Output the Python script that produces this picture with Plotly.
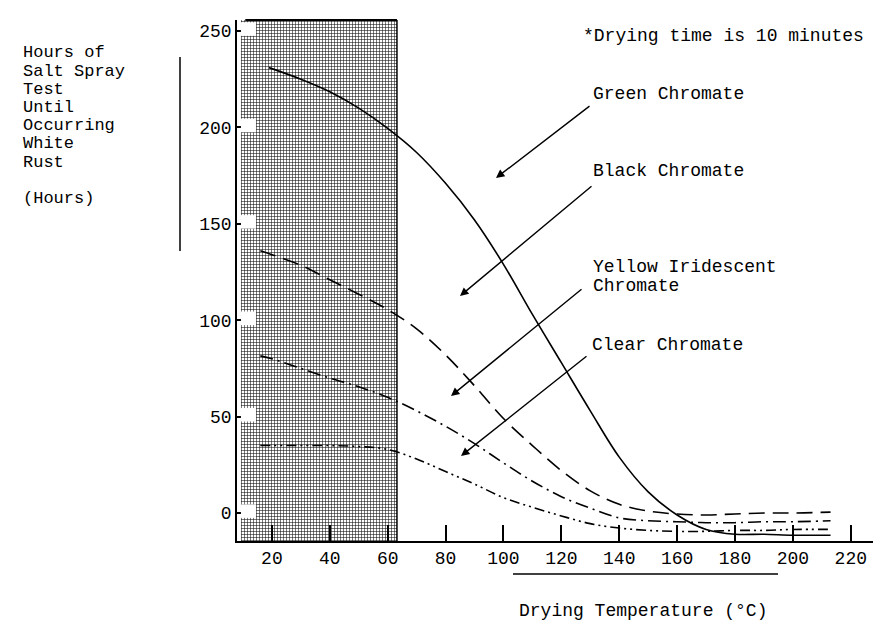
import plotly.graph_objects as go

# ---------------- data ----------------
TEMP_GREEN = [19, 30, 40, 50, 60, 70, 80, 90, 100, 110, 120, 130, 140, 150, 160, 170, 180, 190, 200, 213]
GREEN = [231, 225, 218.5, 210, 199.5, 187, 171, 152, 129, 103, 78, 53, 29, 11, -1, -8.5, -11, -11, -11.5, -11.5]

TEMP = [16, 20, 30, 40, 50, 60, 70, 80, 90, 100, 110, 120, 130, 140, 150, 160, 170, 180, 190, 200, 213]
BLACK = [136, 134, 128.5, 121, 113.5, 105.5, 95.5, 82, 66, 49, 35, 22, 11.5, 4.5, 1, -0.5, -1, -0.5, 0, 0, 0.5]
YELLOW = [81.5, 80, 75, 70, 65.5, 60, 53, 45, 36, 26, 16.5, 8.5, 2.5, -2.5, -4, -4.5, -5, -5, -4.5, -4.5, -4]
CLEAR = [35, 35, 35, 35, 34.5, 33, 28, 21.5, 15, 8, 3, -1.5, -5.5, -7.8, -9, -9.5, -9.5, -9, -9, -8.5, -8.5]

X_TICKS = [20, 40, 60, 80, 100, 120, 140, 160, 180, 200, 220]
Y_TICKS = [0, 50, 100, 150, 200, 250]
Y_TITLE = ["Hours of", "Salt Spray", "Test", "Until", "Occurring", "White", "Rust", "", "(Hours)"]
SHADE_X = [9.3, 63.2]          # drying-zone band (temperature)
X_RANGE = [7.94, 233.2]
Y_RANGE = [-14.5, 255.7]

FONT = "Liberation Mono, Courier New, monospace"
W, H = 881, 632
ML, MR, MT, MB = 229, 0, 12, 99


def pxx(x):
    return (x - ML) / (W - ML - MR)


def pxy(y):
    return (H - MB - y) / (H - MT - MB)


fig = go.Figure()

# shaded band
fig.add_trace(go.Scatter(
    x=[SHADE_X[0], SHADE_X[1], SHADE_X[1], SHADE_X[0], SHADE_X[0]],
    y=[Y_RANGE[0], Y_RANGE[0], Y_RANGE[1], Y_RANGE[1], Y_RANGE[0]],
    fill="toself", mode="lines", line=dict(width=0),
    fillcolor="rgba(0,0,0,0)",
    fillpattern=dict(shape="+", size=3, solidity=0.34, fgcolor="#111", bgcolor="white", fillmode="replace"),
    hoverinfo="skip", showlegend=False))

# white gaps at y ticks inside band
for v in Y_TICKS:
    fig.add_shape(type="rect", xref="x", yref="y", x0=SHADE_X[0], x1=14.5, y0=v - 2.5, y1=v + 4.5,
                  fillcolor="white", line=dict(width=0), layer="above")

# band right border and top edge
fig.add_shape(type="line", xref="x", yref="paper", x0=SHADE_X[1], x1=SHADE_X[1], y0=0, y1=1,
              line=dict(color="black", width=1.5))
fig.add_shape(type="line", xref="x", yref="paper", x0=SHADE_X[0] + 1.5, x1=SHADE_X[1], y0=1, y1=1,
              line=dict(color="black", width=2))

series = [
    ("Green Chromate", TEMP_GREEN, GREEN, "solid"),
    ("Black Chromate", TEMP, BLACK, "16px,8px"),
    ("Yellow Iridescent Chromate", TEMP, YELLOW, "13px,5px,2px,5px"),
    ("Clear Chromate", TEMP, CLEAR, "10px,4px,2px,4px,2px,4px"),
]
for name, xs, ys, dash in series:
    fig.add_trace(go.Scatter(x=xs, y=ys, mode="lines", name=name,
                             line=dict(color="black", width=1.6, dash=dash, shape="spline", smoothing=1.0),
                             showlegend=False))

ann = []


def text(s, x, y, size=18, xanchor="left"):
    ann.append(dict(text=s, x=pxx(x), y=pxy(y), xref="paper", yref="paper", showarrow=False,
                    xanchor=xanchor, yanchor="middle", font=dict(family=FONT, size=size, color="black")))


text("*Drying time is 10 minutes", 573, 28)
text("Green Chromate", 583, 86)
text("Black Chromate", 583, 163)
text("Yellow Iridescent", 583, 259)
text("Chromate", 583, 278)
text("Clear Chromate", 582, 337)

# y title lines
for i, s in enumerate(Y_TITLE):
    if s:
        text(s, 13, 45 + i * 18.2, size=17)

# x title
text("Drying Temperature (°C)", 635, 603, xanchor="center")

# arrows (head, tail) in pixel positions
for (hx, hy), (tx, ty) in [((488, 170), (583, 97)), ((452, 288), (585, 177)),
                           ((443, 388), (575, 280)), ((453, 448), (580, 347))]:
    ann.append(dict(x=pxx(hx), y=pxy(hy), xref="paper", yref="paper",
                    ax=tx - hx, ay=ty - hy, axref="pixel", ayref="pixel",
                    showarrow=True, arrowhead=2, arrowsize=1.2, arrowwidth=1.4, arrowcolor="black", text=""))

# decorative lines
shapes_extra = [
    dict(type="line", xref="paper", yref="paper", x0=pxx(172), x1=pxx(172), y0=pxy(49), y1=pxy(243),
         line=dict(color="black", width=1.5)),
    dict(type="line", xref="paper", yref="paper", x0=pxx(505), x1=pxx(770), y0=pxy(566), y1=pxy(566),
         line=dict(color="black", width=1.5)),
]
for s in shapes_extra:
    fig.add_shape(**s)

fig.update_layout(
    width=W, height=H, margin=dict(l=ML, r=MR, t=MT, b=MB),
    paper_bgcolor="white", plot_bgcolor="white",
    annotations=ann,
    font=dict(family=FONT, size=18, color="black"),
    xaxis=dict(range=X_RANGE, tickvals=X_TICKS, ticktext=[str(v) for v in X_TICKS],
               showgrid=False, zeroline=False, showline=True, linecolor="black", linewidth=1.5,
               ticks="inside", ticklen=16, tickwidth=1.5, tickcolor="black",
               tickfont=dict(family=FONT, size=18, color="black")),
    yaxis=dict(range=Y_RANGE, tickvals=Y_TICKS, ticktext=[str(v) for v in Y_TICKS],
               showgrid=False, zeroline=False, showline=True, linecolor="black", linewidth=1.5,
               ticks="inside", ticklen=14, tickwidth=1.5, tickcolor="black",
               tickfont=dict(family=FONT, size=18, color="black")),
)

fig.write_html("out.html")
